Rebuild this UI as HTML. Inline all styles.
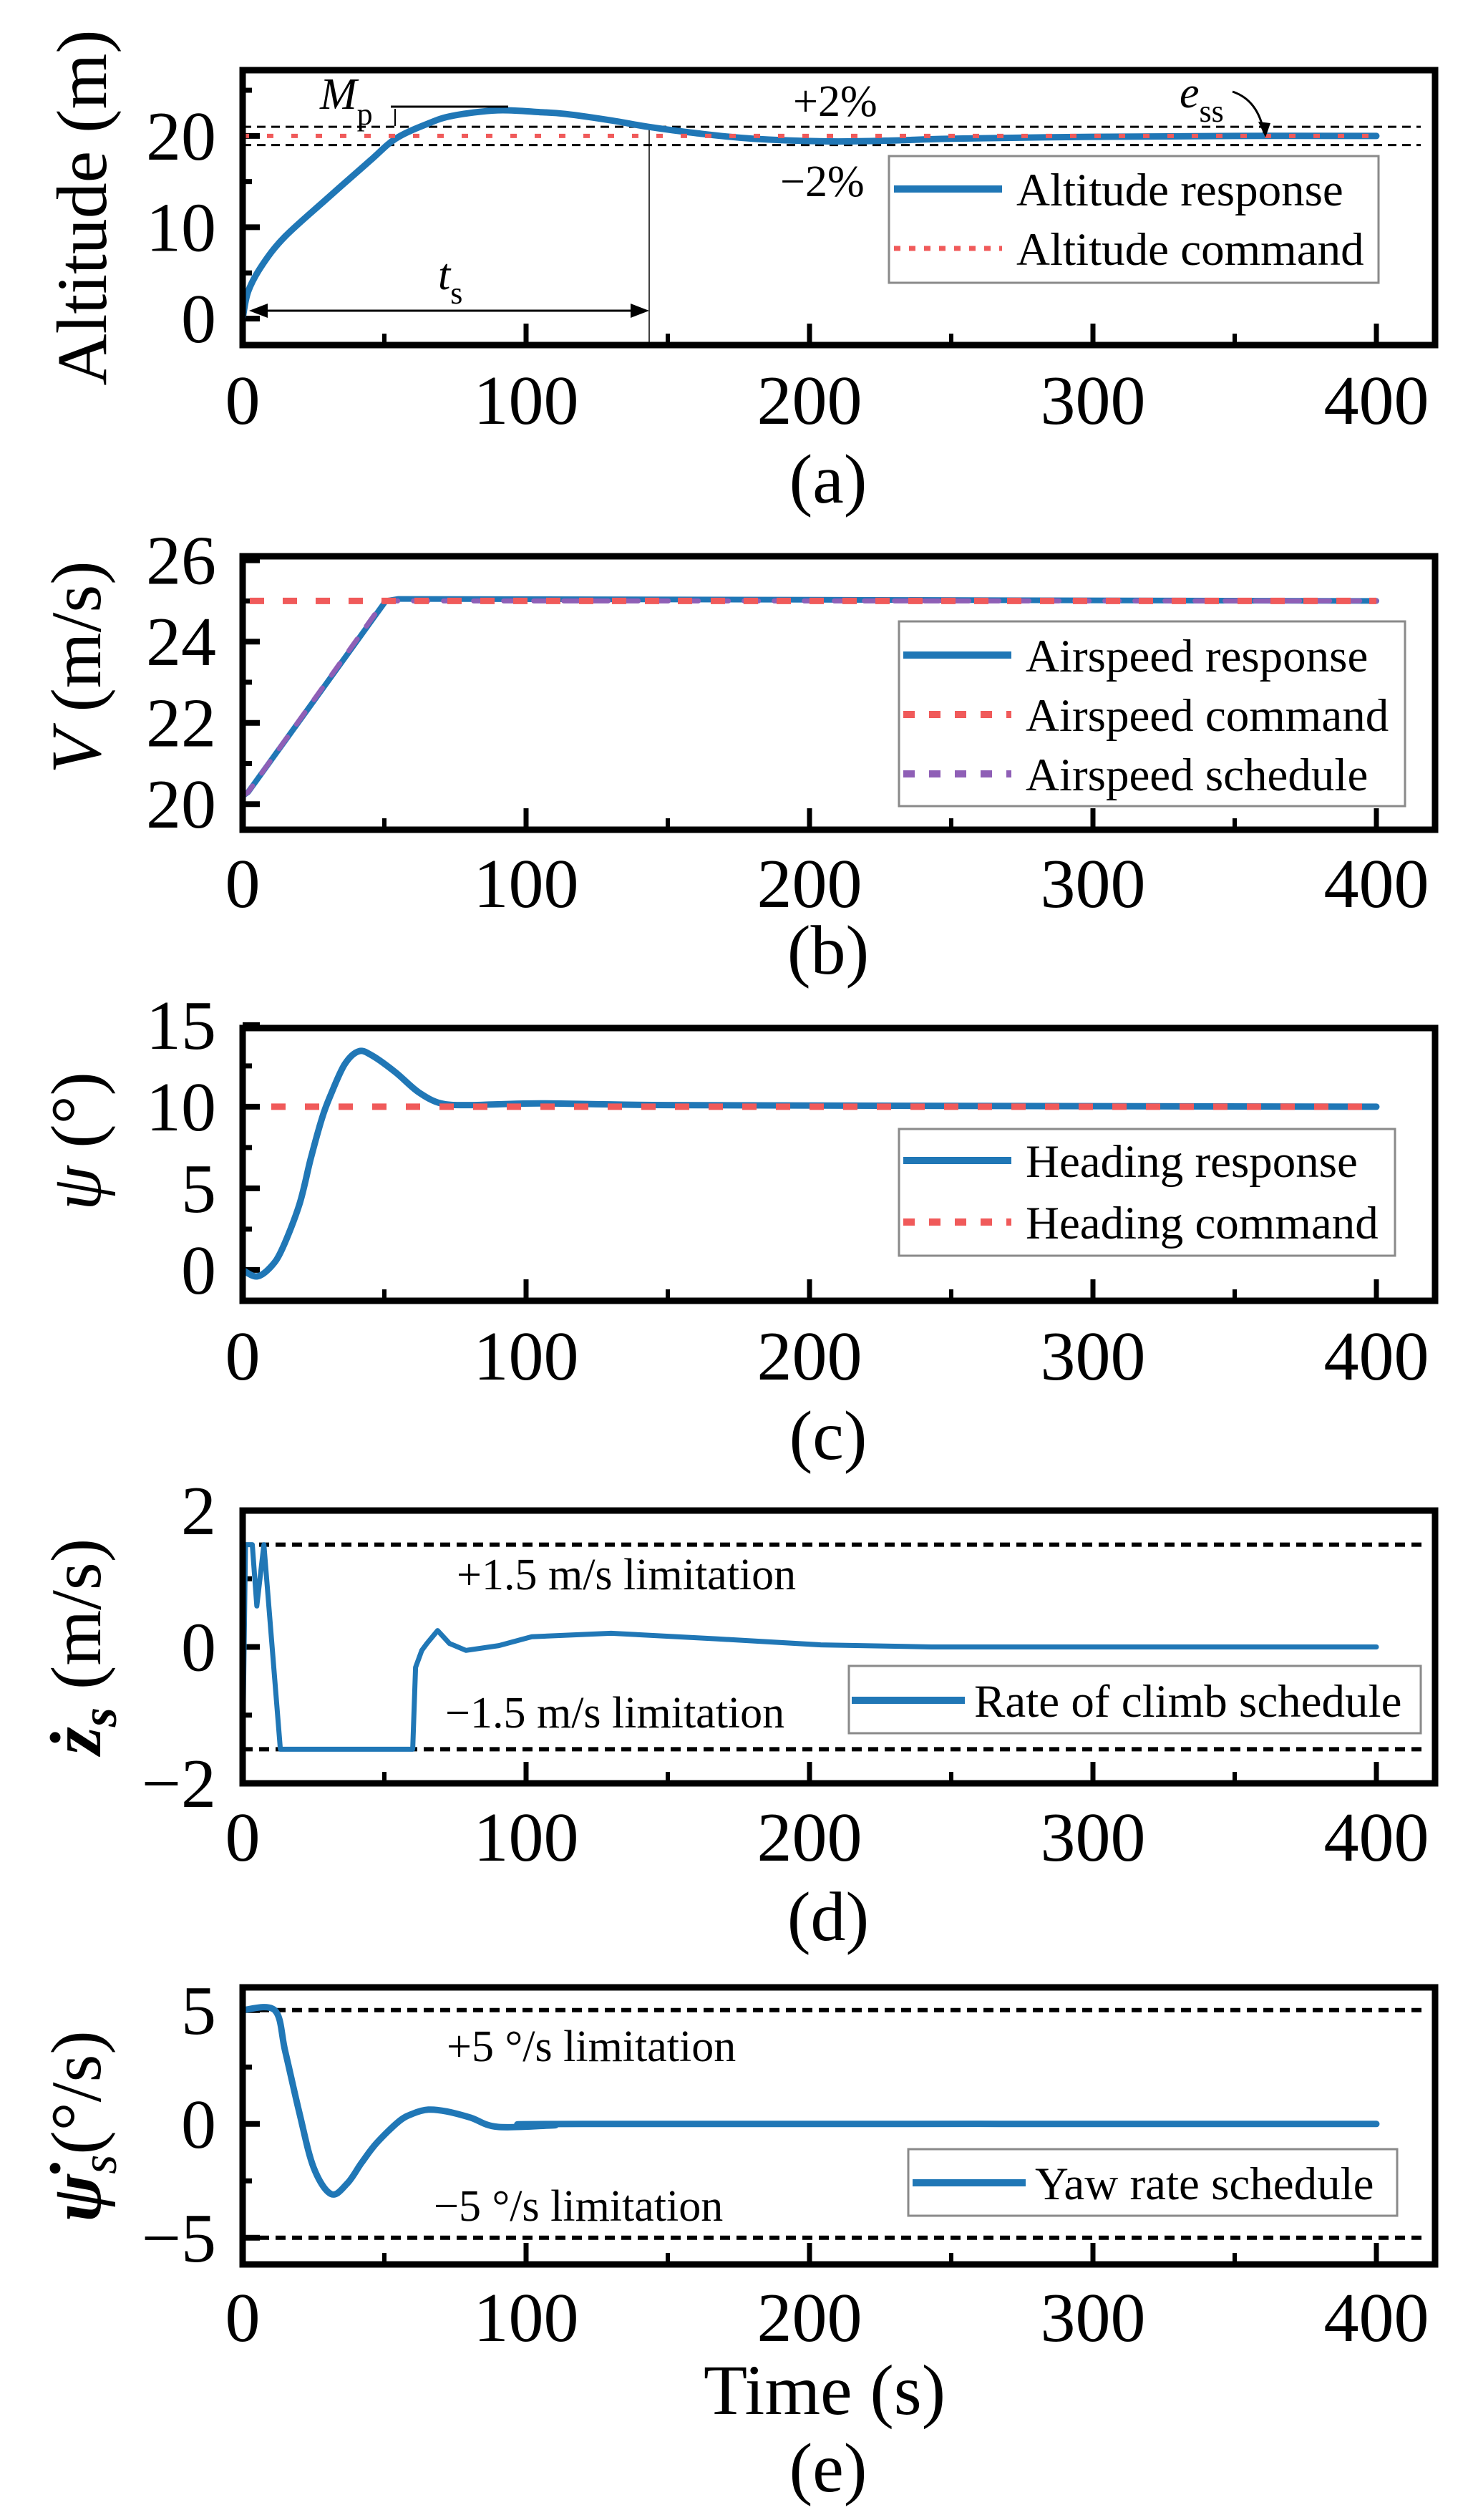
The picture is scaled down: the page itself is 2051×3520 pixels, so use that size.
<!DOCTYPE html>
<html><head><meta charset="utf-8"><style>
html,body{margin:0;padding:0;background:#fff}
svg{display:block;font-family:"Liberation Serif","DejaVu Serif",serif}
</style></head><body>
<svg id="fig" width="2051" height="3520" viewBox="0 0 2051 3520" xmlns="http://www.w3.org/2000/svg">
<rect width="2051" height="3520" fill="#fff"/>
</svg>
<script>
// ---- data ----
const xTicks=[0,100,200,300,400];
const xMinor=[50,150,250,350];
const altT=[0,2,7,15,30,45,54,65,74,90,105,114,130,143,160,180,207,230,250,300,350,400];
const altV=[0,3,5.9,9,13.2,17.3,19.7,21.3,22.2,22.8,22.6,22.4,21.7,21.0,20.3,19.7,19.4,19.5,19.7,19.9,20,20];
const altCmd=20;
const altBand=[21,19];
const spdT=[0,2,50.5,55,400];
const spdV=[20.2,20.3,25,25.05,25];
const schT=[0,2,50,400];
const schV=[20.2,20.3,25,25];
const spdCmd=25;
const hdgT=[0,5,10,14,20,24,28,31,36,41,46,54,62,70,80,90,107,150,250,400];
const hdgV=[0,-0.4,0.2,1.3,4,6.8,9.3,10.7,12.6,13.4,13.1,12.1,10.9,10.2,10.1,10.15,10.2,10.1,10.05,10];
const hdgCmd=10;
const rcT=[0,1,3.4,5,7.5,13.3,60,61,63.2,65,68.8,73,78.8,90.4,102,130,167,204,243,400];
const rcV=[-1.6,1.5,1.5,0.6,1.5,-1.5,-1.5,-0.3,-0.05,0.05,0.24,0.05,-0.05,0.02,0.15,0.2,0.12,0.03,0,0];
const rcLim=[1.5,-1.5];
const yrT=[0,11.3,15,20,25,31.2,37,42,47.2,55,60,65.5,72,80.4,90,110,120,400];
const yrV=[5,5,3.2,0.5,-1.9,-3.08,-2.6,-1.7,-0.85,0.1,0.45,0.63,0.55,0.28,-0.13,-0.06,0,0];
const yrLim=[5,-5];
const aTicks=[0,10,20], aMinor=[5,15,25];
const bTicks=[20,22,24,26], bMinor=[21,23,25];
const cTicks=[0,5,10,15], cMinor=[2.5,7.5,12.5];
const dTicks=[-2,0,2], dMinor=[-1,1];
const eTicks=[-5,0,5], eMinor=[-2.5,2.5];

const NS='http://www.w3.org/2000/svg';
const svg=document.getElementById('fig');
const X0=339,XR=2005,XPX=3.96;
const BLUE='#2077b6',RED='#f05a5a',PURP='#8f5fb6';
function sx(t){return X0+t*XPX;}
function mk(tag,attrs,parent){const e=document.createElementNS(NS,tag);for(const k in attrs)e.setAttribute(k,attrs[k]);(parent||svg).appendChild(e);return e;}
function txt(s,x,y,size,anchor,parent){const e=mk('text',{x:x,y:y,'font-size':size,'text-anchor':anchor||'start',fill:'#000'},parent);e.textContent=s;return e;}

function panel(name,top,bot,ymin,ymax,yt,ym,lblY,capY,cap){
  const g=mk('g',{});
  
  
  const sy=v=>bot-(v-ymin)/(ymax-ymin)*(bot-top);
  xTicks.forEach(t=>{const l=mk('line',{x1:sx(t),x2:sx(t),y1:bot,y2:bot-30,stroke:'#000','stroke-width':7},g);
    
    
    const tl=txt(String(t),sx(t),lblY+34,98,'middle',g);
    
    });
  xMinor.forEach(t=>{mk('line',{x1:sx(t),x2:sx(t),y1:bot,y2:bot-16,stroke:'#000','stroke-width':6},g);});
  yt.forEach(v=>{const l=mk('line',{x1:X0,x2:X0+24,y1:sy(v),y2:sy(v),stroke:'#000','stroke-width':8},g);
    
    
    const tl=txt(v<0?'\u2212'+Math.abs(v):String(v),302,sy(v)+33,98,'end',g);
    
    });
  ym.forEach(v=>{mk('line',{x1:X0,x2:X0+13,y1:sy(v),y2:sy(v),stroke:'#000','stroke-width':7},g);});
  const c=txt(cap,1157,capY+33,98,'middle',g);
  
  
  return {g,sy,top,bot};
}
function frame(P){const r=mk('rect',{x:X0,y:P.top,width:XR-X0,height:P.bot-P.top,fill:'none',stroke:'#000','stroke-width':9},P.g);
  
  }
function series(P,T,V,color,w,dash,name,smooth){
  const pts=T.map((t,i)=>[sx(t),P.sy(V[i])]);
  let d='M'+pts[0][0].toFixed(1)+','+pts[0][1].toFixed(1);
  for(let i=1;i<pts.length;i++){
    if(smooth){
      const p0=pts[Math.max(0,i-2)],p1=pts[i-1],p2=pts[i],p3=pts[Math.min(pts.length-1,i+1)];
      const c1=[p1[0]+(p2[0]-p0[0])/6,p1[1]+(p2[1]-p0[1])/6];
      const c2=[p2[0]-(p3[0]-p1[0])/6,p2[1]-(p3[1]-p1[1])/6];
      d+='C'+c1[0].toFixed(1)+','+c1[1].toFixed(1)+' '+c2[0].toFixed(1)+','+c2[1].toFixed(1)+' '+p2[0].toFixed(1)+','+p2[1].toFixed(1);
    } else d+='L'+pts[i][0].toFixed(1)+','+pts[i][1].toFixed(1);
  }
  const a={d:d,fill:'none',stroke:color,'stroke-width':w,'stroke-linejoin':'round','stroke-linecap':'round'};
  if(dash)a['stroke-dasharray']=dash;
  const p=mk('path',a,P.g);
  
  
  return p;
}
function hline(P,v,x1,x2,color,w,dash,name){
  const l=mk('line',{x1:x1,x2:x2,y1:P.sy(v),y2:P.sy(v),stroke:color,'stroke-width':w,'stroke-dasharray':dash},P.g);
  
  
}
function legend(P,x,y,w,h,rows,name){
  const g=mk('g',{},P.g);
  
  
  mk('rect',{x:x,y:y,width:w,height:h,fill:'#fff',stroke:'#8a8a8a','stroke-width':3},g);
  rows.forEach(r=>{
    const a={x1:r.sx1,x2:r.sx2,y1:r.y,y2:r.y,stroke:r.c,'stroke-width':r.w};
    if(r.dash)a['stroke-dasharray']=r.dash;
    const l=mk('line',a,g);
    
    
    const t=txt(r.t,r.tx,r.y+23,65,'start',g);
    
    
  });
}
function ytitle(x,y,parts,name){
  const t=mk('text',{x:0,y:0,'font-size':100,'text-anchor':'middle',transform:`translate(${x},${y}) rotate(-90)`});
  
  
  parts.forEach(p=>{const s=mk('tspan',p.a||{},t);s.textContent=p.s;});
}

// ---- panel a ----
const A=panel('panel-altitude',98,482,-2.9,27.2,aTicks,aMinor,558,669,'(a)');
hline(A,altBand[0],X0,1985,'#000',3,'12 8','upper-2pct-band');
hline(A,altBand[1],X0,1985,'#000',3,'12 8','lower-2pct-band');
mk('line',{x1:907,x2:907,y1:A.sy(altBand[0]),y2:482,stroke:'#000','stroke-width':1.5},A.g);
series(A,altT,altV,BLUE,9,null,'altitude-response',true);
hline(A,altCmd,X0,1923,RED,6,'9 25','altitude-command');
mk('line',{x1:360,x2:892,y1:434,y2:434,stroke:'#000','stroke-width':3},A.g);
mk('path',{d:'M348,434 L374,424 L374,444 Z',fill:'#000'},A.g);
mk('path',{d:'M907,434 L881,424 L881,444 Z',fill:'#000'},A.g);
mk('line',{x1:546,x2:710,y1:149,y2:149,stroke:'#000','stroke-width':3},A.g);
mk('line',{x1:552,x2:552,y1:152,y2:176,stroke:'#000','stroke-width':2},A.g);
mk('path',{d:'M1722,128 Q1758,140 1766,186',fill:'none',stroke:'#000','stroke-width':3},A.g);
mk('path',{d:'M1768,192 L1758,170 L1775,172 Z',fill:'#000'},A.g);
let t;
t=txt('',447,152,62,'start',A.g);t.innerHTML='<tspan font-style="italic">M</tspan><tspan font-size="44" dy="22">p</tspan>';

t=txt('',612,404,62,'start',A.g);t.innerHTML='<tspan font-style="italic">t</tspan><tspan font-size="44" dy="20">s</tspan>';

t=txt('',1648,150,62,'start',A.g);t.innerHTML='<tspan font-style="italic">e</tspan><tspan font-size="44" dy="20">ss</tspan>';

t=txt('+2%',1108,162,62,'start',A.g);
t=txt('\u22122%',1090,274,62,'start',A.g);
legend(A,1242,218,684,177,[
 {y:264,sx1:1249,sx2:1400,c:BLUE,w:10,t:'Altitude response',tx:1420},
 {y:347,sx1:1249,sx2:1400,c:RED,w:7,dash:'9 12',t:'Altitude command',tx:1420}],'legend-altitude');
frame(A);
ytitle(148,290,[{s:'Altitude (m)'}],'y-axis-title-altitude');

// ---- panel b ----
const B=panel('panel-airspeed',777,1159,19.37,26.1,bTicks,bMinor,1233,1327,'(b)');
series(B,spdT,spdV,BLUE,8,null,'airspeed-response',false);
series(B,schT,schV,PURP,7,'20 22','airspeed-schedule',false);
hline(B,spdCmd,X0+10,1923,RED,9,'20 26','airspeed-command');
legend(B,1256,868,707,258,[
 {y:915,sx1:1262,sx2:1413,c:BLUE,w:10,t:'Airspeed response',tx:1433},
 {y:998,sx1:1262,sx2:1413,c:RED,w:10,dash:'16 20',t:'Airspeed command',tx:1433},
 {y:1081,sx1:1262,sx2:1413,c:PURP,w:10,dash:'16 20',t:'Airspeed schedule',tx:1433}],'legend-airspeed');
frame(B);
ytitle(140,932,[{s:'V',a:{'font-style':'italic'}},{s:' (m/s)'}],'y-axis-title-airspeed');

// ---- panel c ----
const C=panel('panel-heading',1436,1817,-1.89,14.82,cTicks,cMinor,1893,2005,'(c)');
series(C,hdgT,hdgV,BLUE,9,null,'heading-response',true);
hline(C,hdgCmd,X0+40,1923,RED,9,'20 27','heading-command');
legend(C,1256,1577,693,177,[
 {y:1621,sx1:1262,sx2:1413,c:BLUE,w:10,t:'Heading response',tx:1433},
 {y:1707,sx1:1262,sx2:1413,c:RED,w:10,dash:'16 20',t:'Heading command',tx:1433}],'legend-heading');
frame(C);
ytitle(140,1594,[{s:'\u03C8',a:{'font-style':'italic'}},{s:' (\u00B0)'}],'y-axis-title-heading');

// ---- panel d ----
const D=panel('panel-rate-of-climb',2110,2491,-2,2,dTicks,dMinor,2565,2677,'(d)');
hline(D,rcLim[0],X0,1995,'#000',6,'14 9','upper-limit-line');
hline(D,rcLim[1],X0,1995,'#000',6,'14 9','lower-limit-line');
series(D,rcT,rcV,BLUE,7,null,'rate-of-climb-schedule',false);
t=txt('+1.5 m/s limitation',638,2220,62,'start',D.g);
t=txt('\u22121.5 m/s limitation',622,2413,62,'start',D.g);
legend(D,1186,2327,799,94,[
 {y:2375,sx1:1190,sx2:1348,c:BLUE,w:10,t:'Rate of climb schedule',tx:1361}],'legend-rate-of-climb');
frame(D);
ytitle(140,2300,[{s:'z\u0307',a:{'font-style':'italic','font-weight':'bold'}},{s:'s',a:{'font-style':'italic','font-weight':'bold','font-size':70,dy:'22'}},{s:' (m/s)',a:{dy:'-22'}}],'y-axis-title-rate-of-climb');

// ---- panel e ----
const E=panel('panel-yaw-rate',2776,3163,-6.17,6.0,eTicks,eMinor,3236,3447,'(e)');
hline(E,yrLim[0],X0,1995,'#000',6,'14 9','upper-limit-line');
hline(E,yrLim[1],X0,1995,'#000',6,'14 9','lower-limit-line');
series(E,yrT,yrV,BLUE,9,null,'yaw-rate-schedule',true);
t=txt('+5 \u00B0/s limitation',624,2879,62,'start',E.g);
t=txt('\u22125 \u00B0/s limitation',606,3102,62,'start',E.g);
legend(E,1269,3002,683,93,[
 {y:3049,sx1:1275,sx2:1433,c:BLUE,w:10,t:'Yaw rate schedule',tx:1446}],'legend-yaw-rate');
frame(E);
ytitle(140,2970,[{s:'\u03C8\u0307',a:{'font-style':'italic','font-weight':'bold'}},{s:'s',a:{'font-style':'italic','font-size':70,dy:'22'}},{s:'(\u00B0/s)',a:{dy:'-22'}}],'y-axis-title-yaw-rate');
t=txt('Time (s)',1152,3372,100,'middle');


</script>
</body></html>
